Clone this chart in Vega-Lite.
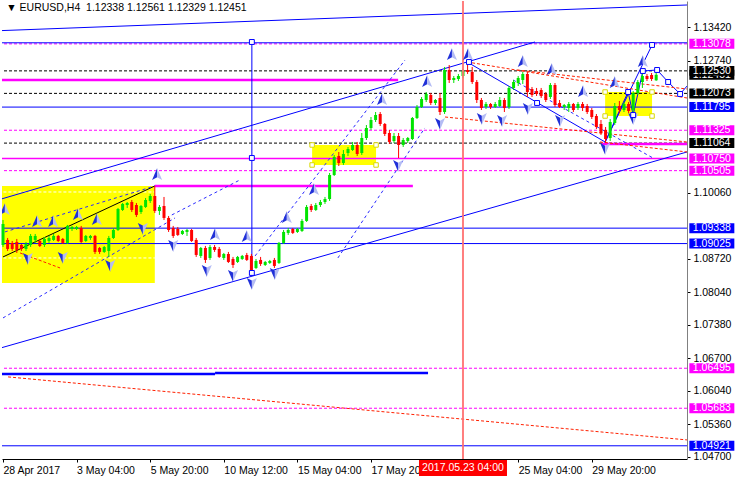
{
"$schema": "https://vega.github.io/schema/vega-lite/v6.json",
"width": 685, "height": 458,
"autosize": {"type": "none"},
"padding": {"left": 2, "top": 1, "right": 49, "bottom": 21},
"background": "#ffffff",
"config": {"view": {"stroke": null}, "font": "Liberation Sans"},
"title": {"text": "▼ EURUSD,H4\u00a0\u00a01.12338 1.12561 1.12329 1.12451", "anchor": "start", "offset": -13, "dx": 5, "fontSize": 10.5, "fontWeight": "normal", "font": "Liberation Sans", "color": "#000000"},
"datasets": {
"candles": [
{"i":0,"o":1.08997,"h":1.09504,"l":1.08956,"c":1.09423},
{"i":1,"o":1.09099,"h":1.09139,"l":1.08875,"c":1.08916},
{"i":2,"o":1.09038,"h":1.09078,"l":1.08875,"c":1.08916},
{"i":3,"o":1.09058,"h":1.09119,"l":1.08835,"c":1.08896},
{"i":4,"o":1.08997,"h":1.09017,"l":1.08875,"c":1.08916},
{"i":5,"o":1.08916,"h":1.09058,"l":1.08875,"c":1.09017},
{"i":6,"o":1.08997,"h":1.09220,"l":1.08956,"c":1.09180},
{"i":7,"o":1.09099,"h":1.09220,"l":1.09038,"c":1.09180},
{"i":8,"o":1.09078,"h":1.09119,"l":1.08956,"c":1.08977},
{"i":9,"o":1.08997,"h":1.09159,"l":1.08956,"c":1.09119},
{"i":10,"o":1.09078,"h":1.09180,"l":1.09038,"c":1.09139},
{"i":11,"o":1.09099,"h":1.09220,"l":1.09078,"c":1.09180},
{"i":12,"o":1.09180,"h":1.09200,"l":1.09058,"c":1.09078},
{"i":13,"o":1.09119,"h":1.09139,"l":1.09017,"c":1.09038},
{"i":14,"o":1.09038,"h":1.09403,"l":1.09017,"c":1.09383},
{"i":15,"o":1.09322,"h":1.09383,"l":1.09281,"c":1.09362},
{"i":16,"o":1.09322,"h":1.09383,"l":1.09301,"c":1.09362},
{"i":17,"o":1.09342,"h":1.09383,"l":1.09038,"c":1.09058},
{"i":18,"o":1.09078,"h":1.09200,"l":1.09058,"c":1.09180},
{"i":19,"o":1.09139,"h":1.09200,"l":1.09099,"c":1.09180},
{"i":20,"o":1.09180,"h":1.09200,"l":1.08814,"c":1.08855},
{"i":21,"o":1.08936,"h":1.08956,"l":1.08814,"c":1.08855},
{"i":22,"o":1.08855,"h":1.08977,"l":1.08835,"c":1.08956},
{"i":23,"o":1.08875,"h":1.09180,"l":1.08754,"c":1.09139},
{"i":24,"o":1.09139,"h":1.09342,"l":1.09119,"c":1.09301},
{"i":25,"o":1.09301,"h":1.09748,"l":1.09281,"c":1.09727},
{"i":26,"o":1.09707,"h":1.09849,"l":1.09687,"c":1.09829},
{"i":27,"o":1.09808,"h":1.09869,"l":1.09748,"c":1.09849},
{"i":28,"o":1.09869,"h":1.09910,"l":1.09666,"c":1.09707},
{"i":29,"o":1.09808,"h":1.09849,"l":1.09565,"c":1.09606},
{"i":30,"o":1.09666,"h":1.09808,"l":1.09626,"c":1.09788},
{"i":31,"o":1.09768,"h":1.09950,"l":1.09748,"c":1.09910},
{"i":32,"o":1.09890,"h":1.10031,"l":1.09849,"c":1.09991},
{"i":33,"o":1.09991,"h":1.10194,"l":1.09646,"c":1.09687},
{"i":34,"o":1.09687,"h":1.09808,"l":1.09606,"c":1.09768},
{"i":35,"o":1.09788,"h":1.09971,"l":1.09504,"c":1.09545},
{"i":36,"o":1.09545,"h":1.09585,"l":1.09261,"c":1.09301},
{"i":37,"o":1.09342,"h":1.09383,"l":1.09139,"c":1.09180},
{"i":38,"o":1.09322,"h":1.09362,"l":1.09180,"c":1.09200},
{"i":39,"o":1.09220,"h":1.09301,"l":1.09200,"c":1.09281},
{"i":40,"o":1.09261,"h":1.09322,"l":1.09180,"c":1.09301},
{"i":41,"o":1.09301,"h":1.09322,"l":1.09058,"c":1.09078},
{"i":42,"o":1.09099,"h":1.09139,"l":1.08754,"c":1.08794},
{"i":43,"o":1.08774,"h":1.08956,"l":1.08733,"c":1.08936},
{"i":44,"o":1.08936,"h":1.08977,"l":1.08632,"c":1.08693},
{"i":45,"o":1.08733,"h":1.08997,"l":1.08693,"c":1.08956},
{"i":46,"o":1.08956,"h":1.08997,"l":1.08855,"c":1.08896},
{"i":47,"o":1.08916,"h":1.08956,"l":1.08733,"c":1.08754},
{"i":48,"o":1.08733,"h":1.08835,"l":1.08693,"c":1.08814},
{"i":49,"o":1.08814,"h":1.08855,"l":1.08632,"c":1.08652},
{"i":50,"o":1.08713,"h":1.08754,"l":1.08530,"c":1.08591},
{"i":51,"o":1.08652,"h":1.08774,"l":1.08632,"c":1.08754},
{"i":52,"o":1.08713,"h":1.08794,"l":1.08693,"c":1.08774},
{"i":53,"o":1.08794,"h":1.08835,"l":1.08672,"c":1.08693},
{"i":54,"o":1.08774,"h":1.08814,"l":1.08388,"c":1.08449},
{"i":55,"o":1.08530,"h":1.08713,"l":1.08510,"c":1.08672},
{"i":56,"o":1.08693,"h":1.08754,"l":1.08571,"c":1.08612},
{"i":57,"o":1.08591,"h":1.08672,"l":1.08571,"c":1.08652},
{"i":58,"o":1.08632,"h":1.08693,"l":1.08612,"c":1.08672},
{"i":59,"o":1.08693,"h":1.08733,"l":1.08530,"c":1.08571},
{"i":60,"o":1.08632,"h":1.09058,"l":1.08612,"c":1.09038},
{"i":61,"o":1.09038,"h":1.09301,"l":1.09017,"c":1.09261},
{"i":62,"o":1.09241,"h":1.09342,"l":1.09200,"c":1.09301},
{"i":63,"o":1.09322,"h":1.09342,"l":1.09220,"c":1.09241},
{"i":64,"o":1.09261,"h":1.09342,"l":1.09241,"c":1.09322},
{"i":65,"o":1.09281,"h":1.09525,"l":1.09261,"c":1.09484},
{"i":66,"o":1.09484,"h":1.09808,"l":1.09464,"c":1.09768},
{"i":67,"o":1.09788,"h":1.09829,"l":1.09666,"c":1.09707},
{"i":68,"o":1.09707,"h":1.09849,"l":1.09687,"c":1.09808},
{"i":69,"o":1.09808,"h":1.09910,"l":1.09768,"c":1.09869},
{"i":70,"o":1.09869,"h":1.09971,"l":1.09829,"c":1.09930},
{"i":71,"o":1.09930,"h":1.10457,"l":1.09890,"c":1.10417},
{"i":72,"o":1.10417,"h":1.10823,"l":1.10396,"c":1.10782},
{"i":73,"o":1.10802,"h":1.10883,"l":1.10599,"c":1.10660},
{"i":74,"o":1.10660,"h":1.10924,"l":1.10620,"c":1.10843},
{"i":75,"o":1.10863,"h":1.10985,"l":1.10802,"c":1.10944},
{"i":76,"o":1.10924,"h":1.11087,"l":1.10904,"c":1.11026},
{"i":77,"o":1.11026,"h":1.11087,"l":1.10802,"c":1.10843},
{"i":78,"o":1.10863,"h":1.11269,"l":1.10823,"c":1.11168},
{"i":79,"o":1.11168,"h":1.11431,"l":1.11127,"c":1.11371},
{"i":80,"o":1.11371,"h":1.11594,"l":1.11330,"c":1.11533},
{"i":81,"o":1.11533,"h":1.11695,"l":1.11492,"c":1.11634},
{"i":82,"o":1.11655,"h":1.11695,"l":1.11411,"c":1.11452},
{"i":83,"o":1.11452,"h":1.11472,"l":1.11208,"c":1.11249},
{"i":84,"o":1.11269,"h":1.11330,"l":1.11046,"c":1.11087},
{"i":85,"o":1.11107,"h":1.11269,"l":1.11066,"c":1.11208},
{"i":86,"o":1.11208,"h":1.11269,"l":1.10762,"c":1.11026},
{"i":87,"o":1.11026,"h":1.11168,"l":1.10985,"c":1.11127},
{"i":88,"o":1.11107,"h":1.11188,"l":1.11066,"c":1.11168},
{"i":89,"o":1.11147,"h":1.11594,"l":1.11127,"c":1.11574},
{"i":90,"o":1.11574,"h":1.11837,"l":1.11553,"c":1.11797},
{"i":91,"o":1.11797,"h":1.12000,"l":1.11777,"c":1.11959},
{"i":92,"o":1.11939,"h":1.12101,"l":1.11898,"c":1.12061},
{"i":93,"o":1.12040,"h":1.12081,"l":1.11837,"c":1.11878},
{"i":94,"o":1.11878,"h":1.11959,"l":1.11837,"c":1.11939},
{"i":95,"o":1.11980,"h":1.12081,"l":1.11634,"c":1.11695},
{"i":96,"o":1.11695,"h":1.12609,"l":1.11655,"c":1.12548},
{"i":97,"o":1.12548,"h":1.12649,"l":1.12284,"c":1.12345},
{"i":98,"o":1.12345,"h":1.12426,"l":1.12284,"c":1.12385},
{"i":99,"o":1.12365,"h":1.12467,"l":1.12325,"c":1.12426},
{"i":100,"o":1.12426,"h":1.12568,"l":1.12385,"c":1.12527},
{"i":101,"o":1.12548,"h":1.12710,"l":1.12467,"c":1.12507},
{"i":102,"o":1.12507,"h":1.12609,"l":1.12264,"c":1.12304},
{"i":103,"o":1.12304,"h":1.12345,"l":1.11878,"c":1.11939},
{"i":104,"o":1.11939,"h":1.11980,"l":1.11736,"c":1.11777},
{"i":105,"o":1.11797,"h":1.11898,"l":1.11756,"c":1.11858},
{"i":106,"o":1.11858,"h":1.11878,"l":1.11756,"c":1.11797},
{"i":107,"o":1.11797,"h":1.11898,"l":1.11777,"c":1.11858},
{"i":108,"o":1.11817,"h":1.12000,"l":1.11797,"c":1.11939},
{"i":109,"o":1.11939,"h":1.11980,"l":1.11695,"c":1.11777},
{"i":110,"o":1.11797,"h":1.12223,"l":1.11756,"c":1.12183},
{"i":111,"o":1.12183,"h":1.12345,"l":1.12142,"c":1.12304},
{"i":112,"o":1.12284,"h":1.12426,"l":1.12223,"c":1.12385},
{"i":113,"o":1.12345,"h":1.12507,"l":1.12264,"c":1.12467},
{"i":114,"o":1.12467,"h":1.12507,"l":1.12000,"c":1.12101},
{"i":115,"o":1.12162,"h":1.12203,"l":1.12000,"c":1.12040},
{"i":116,"o":1.12122,"h":1.12183,"l":1.12020,"c":1.12061},
{"i":117,"o":1.12142,"h":1.12183,"l":1.11980,"c":1.12020},
{"i":118,"o":1.12061,"h":1.12101,"l":1.11898,"c":1.11939},
{"i":119,"o":1.12000,"h":1.12284,"l":1.11959,"c":1.12243},
{"i":120,"o":1.12243,"h":1.12284,"l":1.11797,"c":1.11837},
{"i":121,"o":1.11878,"h":1.11939,"l":1.11777,"c":1.11797},
{"i":122,"o":1.11797,"h":1.11858,"l":1.11736,"c":1.11837},
{"i":123,"o":1.11777,"h":1.11898,"l":1.11695,"c":1.11858},
{"i":124,"o":1.11858,"h":1.11878,"l":1.11695,"c":1.11736},
{"i":125,"o":1.11777,"h":1.11898,"l":1.11736,"c":1.11858},
{"i":126,"o":1.11858,"h":1.11898,"l":1.11716,"c":1.11777},
{"i":127,"o":1.11817,"h":1.11858,"l":1.11655,"c":1.11695},
{"i":128,"o":1.11736,"h":1.11777,"l":1.11553,"c":1.11594},
{"i":129,"o":1.11614,"h":1.11655,"l":1.11350,"c":1.11391},
{"i":130,"o":1.11452,"h":1.11533,"l":1.11229,"c":1.11269},
{"i":131,"o":1.11330,"h":1.11391,"l":1.11066,"c":1.11147},
{"i":132,"o":1.11168,"h":1.11553,"l":1.11107,"c":1.11492},
{"i":133,"o":1.11472,"h":1.11878,"l":1.11431,"c":1.11817},
{"i":134,"o":1.11817,"h":1.11919,"l":1.11675,"c":1.11736},
{"i":135,"o":1.11736,"h":1.11898,"l":1.11695,"c":1.11858},
{"i":136,"o":1.11858,"h":1.11898,"l":1.11675,"c":1.11716},
{"i":137,"o":1.11736,"h":1.12122,"l":1.11695,"c":1.12081},
{"i":138,"o":1.12081,"h":1.12345,"l":1.12040,"c":1.12304},
{"i":139,"o":1.12304,"h":1.12487,"l":1.12183,"c":1.12426},
{"i":140,"o":1.12426,"h":1.12467,"l":1.12325,"c":1.12365},
{"i":141,"o":1.12446,"h":1.12487,"l":1.12325,"c":1.12365},
{"i":142,"o":1.12338,"h":1.12561,"l":1.12329,"c":1.12451}
],
"zones": [
{"x1":-1,"x2":33,"top":1.10194,"bottom":1.08226},
{"x1":67.2,"x2":81.1,"top":1.11026,"bottom":1.10620},
{"x1":130.9,"x2":141.1,"top":1.12101,"bottom":1.11614}
],
"handles": [
{"i":67.2,"p":1.11026},{"i":81.1,"p":1.11026},{"i":67.2,"p":1.10620},{"i":81.1,"p":1.10620},
{"i":130.9,"p":1.12101},{"i":141.1,"p":1.12101},{"i":130.9,"p":1.11614},{"i":141.1,"p":1.11614}
],
"innerLevels": [
{"x1":-1,"x2":33,"p":1.10072},
{"x1":-1,"x2":33,"p":1.08733}
],
"hBlue": [{"p":1.13100},{"p":1.11795},{"p":1.09338},{"p":1.09025},{"p":1.04921}],
"hBlackDash": [{"p":1.12530},{"p":1.12073},{"p":1.11064}],
"hMagDash": [{"p":1.13078},{"p":1.11325},{"p":1.10505},{"p":1.06495},{"p":1.05683}],
"hMag": [{"p":1.10750}],
"segMagThick": [
{"x1":-1,"p1":1.12344,"x2":85.9,"p2":1.12344},
{"x1":33,"p1":1.10194,"x2":89.1,"p2":1.10194},
{"x1":130.2,"p1":1.11046,"x2":150,"p2":1.11046}
],
"segBlueThick": [
{"x1":-1,"p1":1.06380,"x2":46.1,"p2":1.06380},
{"x1":46.1,"p1":1.06400,"x2":92.4,"p2":1.06400}
],
"segBlue": [
{"x1":-1,"p1":1.13345,"x2":148.7,"p2":1.13867},
{"x1":-1,"p1":1.09912,"x2":115.65,"p2":1.13116},
{"x1":-1,"p1":1.06893,"x2":148.7,"p2":1.10884},
{"x1":54.1,"p1":1.13116,"x2":54.1,"p2":1.08429},
{"x1":100.9,"p1":1.12710,"x2":130.9,"p2":1.11087},
{"x1":130.9,"p1":1.11087,"x2":141.1,"p2":1.13055},
{"x1":130.9,"p1":1.11087,"x2":135.9,"p2":1.12101},
{"x1":135.9,"p1":1.12101,"x2":137,"p2":1.11634},
{"x1":137,"p1":1.11634,"x2":139.1,"p2":1.12527},
{"x1":139.1,"p1":1.12527,"x2":142.2,"p2":1.12548},
{"x1":142.2,"p1":1.12548,"x2":144.6,"p2":1.12304},
{"x1":144.6,"p1":1.12304,"x2":147.2,"p2":1.12061},
{"x1":147.2,"p1":1.12061,"x2":149.3,"p2":1.12284}
],
"segBlack": [
{"x1":0,"p1":1.08754,"x2":33,"p2":1.10194}
],
"segBlueDash": [
{"x1":0.4,"p1":1.09261,"x2":33,"p2":1.10194},
{"x1":0,"p1":1.07516,"x2":37.4,"p2":1.09545},
{"x1":36.7,"p1":1.09606,"x2":51.5,"p2":1.10316},
{"x1":54.8,"p1":1.08774,"x2":87.4,"p2":1.12750},
{"x1":72.8,"p1":1.08733,"x2":91.7,"p2":1.11371},
{"x1":110.9,"p1":1.12345,"x2":141.3,"p2":1.10762}
],
"segRedDash": [
{"x1":1.1,"p1":1.06319,"x2":148.7,"p2":1.05040},
{"x1":100.9,"p1":1.12710,"x2":148.7,"p2":1.11980},
{"x1":111.8,"p1":1.12548,"x2":148.7,"p2":1.12162},
{"x1":96.1,"p1":1.11594,"x2":148.7,"p2":1.11087},
{"x1":129.8,"p1":1.11087,"x2":148.7,"p2":1.10884},
{"x1":3.7,"p1":1.08835,"x2":12.4,"p2":1.08530}
],
"fractalUp": [
{"i":0.4,"p":1.09707},{"i":7.4,"p":1.09464},{"i":10.9,"p":1.09464},{"i":16.3,"p":1.09606},
{"i":20.4,"p":1.09504},{"i":33.5,"p":1.10417},{"i":46.1,"p":1.09200},{"i":53,"p":1.09159},
{"i":61.7,"p":1.09545},{"i":67.6,"p":1.10113},{"i":82.4,"p":1.11939},{"i":92.2,"p":1.12304},
{"i":97.6,"p":1.12852},{"i":101.1,"p":1.12852},{"i":113,"p":1.12710},{"i":119.3,"p":1.12548},
{"i":126.1,"p":1.12101},{"i":133,"p":1.12284},{"i":139.1,"p":1.12710}
],
"fractalDown": [
{"i":5.4,"p":1.08733},{"i":13,"p":1.08754},{"i":23.3,"p":1.08591},{"i":30.4,"p":1.09342},
{"i":37,"p":1.08997},{"i":44.3,"p":1.08490},{"i":50,"p":1.08388},{"i":54.1,"p":1.08226},
{"i":59.1,"p":1.08429},{"i":85.9,"p":1.10620},{"i":95,"p":1.11472},{"i":104.1,"p":1.11574},
{"i":108.5,"p":1.11533},{"i":114.1,"p":1.11777},{"i":121.1,"p":1.11533},{"i":130.9,"p":1.10965},
{"i":137,"p":1.11574}
],
"nodes": [
{"i":54.1,"p":1.13116},{"i":54.1,"p":1.10762},{"i":54.1,"p":1.08429},{"i":101.3,"p":1.12710},
{"i":116.1,"p":1.11878},{"i":135.9,"p":1.12101},{"i":137,"p":1.11634},{"i":139.1,"p":1.12527},{"i":141.1,"p":1.13055},
{"i":142.2,"p":1.12548},{"i":144.6,"p":1.12304},{"i":147.2,"p":1.12061}
],
"bidTag": [{"p":1.12451,"kind":"pivot"}],
"priceTags": [
{"p":1.13078,"kind":"target"},{"p":1.12530,"kind":"pivot"},{"p":1.12073,"kind":"pivot"},
{"p":1.11795,"kind":"level"},{"p":1.11325,"kind":"target"},{"p":1.11064,"kind":"pivot"},
{"p":1.10750,"kind":"target"},{"p":1.10505,"kind":"target"},{"p":1.09338,"kind":"level"},
{"p":1.09025,"kind":"level"},{"p":1.06495,"kind":"target"},{"p":1.05683,"kind":"target"},
{"p":1.04921,"kind":"level"}
],
"cursor": [{"i":100,"t":"2017.05.23 04:00"}]
},
"layer": [
{"data":{"name":"zones"},"mark":{"type":"rect","color":"#ffff00","clip":true},
 "encoding":{
  "x":{"field":"x1","type":"quantitative","scale":{"domain":[-0.22,148.7],"nice":false,"zero":false,"padding":0},
   "axis":{"orient":"bottom","title":null,"grid":false,"values":[0,16,32,48,64,80,112,128],
    "labelExpr":"datum.value == 0 ? '28 Apr 2017' : datum.value == 16 ? '3 May 04:00' : datum.value == 32 ? '5 May 20:00' : datum.value == 48 ? '10 May 12:00' : datum.value == 64 ? '15 May 04:00' : datum.value == 80 ? '17 May 20:00' : datum.value == 112 ? '25 May 04:00' : datum.value == 128 ? '29 May 20:00' : ''",
    "labelAlign":"left","labelBaseline":"top","labelPadding":3,"labelOffset":0,"labelFlush":false,"labelOverlap":false,"labelBound":false,
    "labelFont":"Liberation Sans","labelFontSize":10.5,"labelColor":"#000000","tickSize":3,"tickColor":"#000000","domainColor":"#000000"}},
  "x2":{"field":"x2"},
  "y":{"field":"top","type":"quantitative","scale":{"domain":[1.04653,1.13948],"nice":false,"zero":false,"padding":0},
   "axis":{"orient":"right","title":null,"grid":false,"values":[1.1342,1.1274,1.1006,1.0872,1.0804,1.0738,1.067,1.0604,1.0536,1.047],
    "format":".5f","labelPadding":3,"labelFont":"Liberation Sans","labelFontSize":10.5,"labelColor":"#000000","labelOverlap":false,"labelFlush":false,
    "tickSize":3,"tickColor":"#000000","domainColor":"#808080"}},
  "y2":{"field":"bottom"}}},
{"data":{"name":"innerLevels"},"mark":{"type":"rule","color":"#ffffff","strokeDash":[3,2],"clip":true},
 "encoding":{"x":{"field":"x1","type":"quantitative"},"x2":{"field":"x2"},"y":{"field":"p","type":"quantitative"}}},
{"data":{"name":"hMagDash"},"mark":{"type":"rule","color":"#ff00ff","strokeDash":[3,2],"strokeWidth":1},
 "encoding":{"y":{"field":"p","type":"quantitative"}}},
{"data":{"name":"hBlackDash"},"mark":{"type":"rule","color":"#000000","strokeDash":[3,2],"strokeWidth":1},
 "encoding":{"y":{"field":"p","type":"quantitative"}}},
{"data":{"name":"hBlue"},"mark":{"type":"rule","color":"#0000ff","strokeWidth":1},
 "encoding":{"y":{"field":"p","type":"quantitative"}}},
{"data":{"name":"hMag"},"mark":{"type":"rule","color":"#ff00ff","strokeWidth":1.5},
 "encoding":{"y":{"field":"p","type":"quantitative"}}},
{"data":{"name":"segMagThick"},"mark":{"type":"rule","color":"#ff00ff","strokeWidth":2.5,"clip":true},
 "encoding":{"x":{"field":"x1","type":"quantitative"},"x2":{"field":"x2"},"y":{"field":"p1","type":"quantitative"},"y2":{"field":"p2"}}},
{"data":{"name":"segBlueThick"},"mark":{"type":"rule","color":"#0000ff","strokeWidth":2.5,"clip":true},
 "encoding":{"x":{"field":"x1","type":"quantitative"},"x2":{"field":"x2"},"y":{"field":"p1","type":"quantitative"},"y2":{"field":"p2"}}},
{"data":{"name":"segBlue"},"mark":{"type":"rule","color":"#0000ff","strokeWidth":1,"clip":true},
 "encoding":{"x":{"field":"x1","type":"quantitative"},"x2":{"field":"x2"},"y":{"field":"p1","type":"quantitative"},"y2":{"field":"p2"}}},
{"data":{"name":"segBlack"},"mark":{"type":"rule","color":"#000000","strokeWidth":1,"clip":true},
 "encoding":{"x":{"field":"x1","type":"quantitative"},"x2":{"field":"x2"},"y":{"field":"p1","type":"quantitative"},"y2":{"field":"p2"}}},
{"data":{"name":"segBlueDash"},"mark":{"type":"rule","color":"#2a2aff","strokeWidth":1,"strokeDash":[3,3],"clip":true},
 "encoding":{"x":{"field":"x1","type":"quantitative"},"x2":{"field":"x2"},"y":{"field":"p1","type":"quantitative"},"y2":{"field":"p2"}}},
{"data":{"name":"segRedDash"},"mark":{"type":"rule","color":"#ff2000","strokeWidth":1,"strokeDash":[3,2],"clip":true},
 "encoding":{"x":{"field":"x1","type":"quantitative"},"x2":{"field":"x2"},"y":{"field":"p1","type":"quantitative"},"y2":{"field":"p2"}}},
{"data":{"name":"candles"},"mark":{"type":"rule","strokeWidth":1},
 "encoding":{"x":{"field":"i","type":"quantitative"},"y":{"field":"l","type":"quantitative"},"y2":{"field":"h"},
  "color":{"condition":{"test":"datum.c >= datum.o","value":"#00e400"},"value":"#ff0000"}}},
{"data":{"name":"candles"},"mark":{"type":"bar","width":3},
 "encoding":{"x":{"field":"i","type":"quantitative"},"y":{"field":"o","type":"quantitative"},"y2":{"field":"c"},
  "color":{"condition":{"test":"datum.c >= datum.o","value":"#00e400"},"value":"#ff0000"}}},
{"data":{"name":"cursor"},"mark":{"type":"rule","color":"#ff7070","strokeWidth":2,"opacity":0.9},
 "encoding":{"x":{"field":"i","type":"quantitative"}}},
{"data":{"name":"fractalUp"},"mark":{"type":"point","shape":"M0,-1L0,0.35L-0.75,0.75Z","filled":true,"color":"#2030d8","strokeWidth":0,"size":180,"opacity":1,"clip":true},
 "encoding":{"x":{"field":"i","type":"quantitative"},"y":{"field":"p","type":"quantitative"}}},
{"data":{"name":"fractalUp"},"mark":{"type":"point","shape":"M0,-1L0.75,0.75L0,0.35Z","filled":true,"color":"#b4bcf4","strokeWidth":0,"size":180,"opacity":1,"clip":true},
 "encoding":{"x":{"field":"i","type":"quantitative"},"y":{"field":"p","type":"quantitative"}}},
{"data":{"name":"fractalDown"},"mark":{"type":"point","shape":"M0,1L0,-0.35L-0.75,-0.75Z","filled":true,"color":"#2030d8","strokeWidth":0,"size":180,"opacity":1,"clip":true},
 "encoding":{"x":{"field":"i","type":"quantitative"},"y":{"field":"p","type":"quantitative"}}},
{"data":{"name":"fractalDown"},"mark":{"type":"point","shape":"M0,1L0.75,-0.75L0,-0.35Z","filled":true,"color":"#b4bcf4","strokeWidth":0,"size":180,"opacity":1,"clip":true},
 "encoding":{"x":{"field":"i","type":"quantitative"},"y":{"field":"p","type":"quantitative"}}},
{"data":{"name":"nodes"},"mark":{"type":"point","shape":"square","filled":true,"fill":"#ffffff","stroke":"#0000ff","strokeWidth":1,"size":24,"opacity":1,"clip":true},
 "encoding":{"x":{"field":"i","type":"quantitative"},"y":{"field":"p","type":"quantitative"}}},
{"data":{"name":"handles"},"mark":{"type":"point","shape":"square","filled":true,"fill":"#ffffff","stroke":"#d8d800","strokeWidth":1,"size":20,"opacity":1,"clip":true},
 "encoding":{"x":{"field":"i","type":"quantitative"},"y":{"field":"p","type":"quantitative"}}},
{"mark":{"type":"rule","color":"#808080","clip":false},"encoding":{"x":{"datum":-0.22}}},
{"data":{"name":"bidTag"},"mark":{"type":"point","shape":"M-1,-0.222H1V0.222H-1Z","filled":true,"size":2025,"opacity":1,"strokeWidth":0,"clip":false},
 "encoding":{"x":{"datum":154.1},"y":{"field":"p","type":"quantitative"},
  "color":{"field":"kind","type":"nominal","scale":{"domain":["target","pivot","level"],"range":["#ff00ff","#000000","#0000ff"]},"legend":null}}},
{"data":{"name":"bidTag"},"mark":{"type":"text","color":"#ffffff","fontSize":10.5,"font":"Liberation Sans","align":"center","baseline":"middle","clip":false},
 "encoding":{"x":{"datum":154.1},"y":{"field":"p","type":"quantitative"},"text":{"field":"p","type":"quantitative","format":".5f"}}},
{"data":{"name":"priceTags"},"mark":{"type":"point","shape":"M-1,-0.222H1V0.222H-1Z","filled":true,"size":2025,"opacity":1,"strokeWidth":0,"clip":false},
 "encoding":{"x":{"datum":154.1},"y":{"field":"p","type":"quantitative"},
  "color":{"field":"kind","type":"nominal","scale":{"domain":["target","pivot","level"],"range":["#ff00ff","#000000","#0000ff"]},"legend":null}}},
{"data":{"name":"priceTags"},"mark":{"type":"text","color":"#ffffff","fontSize":10.5,"font":"Liberation Sans","align":"center","baseline":"middle","clip":false},
 "encoding":{"x":{"datum":154.1},"y":{"field":"p","type":"quantitative"},"text":{"field":"p","type":"quantitative","format":".5f"}}},
{"data":{"name":"cursor"},"mark":{"type":"point","shape":"M-1,-0.182H1V0.182H-1Z","filled":true,"color":"#ff0000","size":7744,"opacity":1,"strokeWidth":0,"clip":false},
 "encoding":{"x":{"field":"i","type":"quantitative"},"y":{"datum":1.04472}}},
{"data":{"name":"cursor"},"mark":{"type":"text","color":"#ffffff","fontSize":10.5,"font":"Liberation Sans","align":"center","baseline":"middle","clip":false},
 "encoding":{"x":{"field":"i","type":"quantitative"},"y":{"datum":1.04472},"text":{"field":"t"}}}
]
}
